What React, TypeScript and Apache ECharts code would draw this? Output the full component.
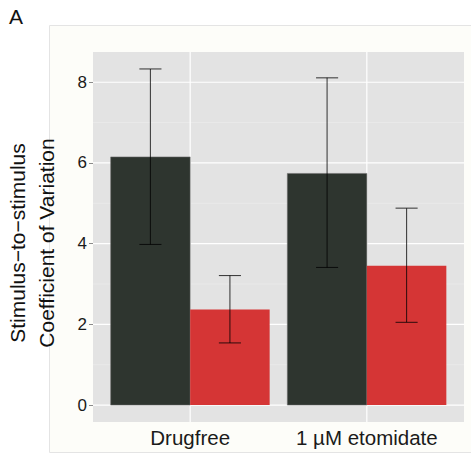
import { useEffect, useRef } from "react";
import * as echarts from "echarts";

const categories = ["Drugfree", "1 µM etomidate"];
const darkMean = [6.15, 5.74];
const darkLow = [3.98, 3.41];
const darkHigh = [8.33, 8.11];
const redMean = [2.37, 3.45];
const redLow = [1.54, 2.05];
const redHigh = [3.21, 4.88];
const yTicks = [0, 2, 4, 6, 8];
const yMinor = [1, 3, 5, 7];
const xTicks = [1, 2];

const FONT = '"Liberation Sans", Arial, Helvetica, sans-serif';
const X_MIN = 0.45;
const X_MAX = 2.55;
const Y_MIN = -0.42;
const Y_MAX = 8.75;
const DODGE = 0.225;
const BAR_W = 0.45;
const CAP_W = 0.125;

function groupSeries(name: string, mean: number[], low: number[], high: number[], color: string, offset: number, stroke: string | null) {
  const data = mean.map((m, i) => [i + 1 + offset, m, low[i], high[i]]);
  return [
    {
      type: "custom",
      name,
      z: 3,
      data,
      encode: { x: 0, y: 1 },
      renderItem: (_p: any, api: any) => {
        const x = api.value(0);
        const y = api.value(1);
        const a = api.coord([x - BAR_W / 2, y]);
        const b = api.coord([x + BAR_W / 2, 0]);
        return {
          type: "rect",
          shape: { x: a[0], y: a[1], width: b[0] - a[0], height: b[1] - a[1] },
          style: { fill: color, stroke: stroke || undefined, lineWidth: stroke ? 0.8 : 0 },
        };
      },
    },
    {
      type: "custom",
      name: name + " error",
      z: 4,
      data,
      encode: { x: 0, y: [2, 3] },
      renderItem: (_p: any, api: any) => {
        const x = api.value(0);
        const lo = api.value(2);
        const hi = api.value(3);
        const top = api.coord([x, hi]);
        const bot = api.coord([x, lo]);
        const tl = api.coord([x - CAP_W / 2, hi]);
        const tr = api.coord([x + CAP_W / 2, hi]);
        const bl = api.coord([x - CAP_W / 2, lo]);
        const br = api.coord([x + CAP_W / 2, lo]);
        const st = { stroke: "rgba(0,0,0,0.72)", lineWidth: 1.1 };
        return {
          type: "group",
          children: [
            { type: "line", shape: { x1: top[0], y1: top[1], x2: bot[0], y2: bot[1] }, style: st },
            { type: "line", shape: { x1: tl[0], y1: tl[1], x2: tr[0], y2: tr[1] }, style: st },
            { type: "line", shape: { x1: bl[0], y1: bl[1], x2: br[0], y2: br[1] }, style: st },
          ],
        };
      },
    },
  ];
}

function hLines(values: number[], color: string, width: number) {
  return {
    type: "custom",
    z: 1,
    silent: true,
    data: values.map((v) => [X_MIN, v]),
    encode: { x: 0, y: 1 },
    renderItem: (_p: any, api: any) => {
      const v = api.value(1);
      const a = api.coord([X_MIN, v]);
      const b = api.coord([X_MAX, v]);
      return { type: "line", shape: { x1: a[0], y1: a[1], x2: b[0], y2: b[1] }, style: { stroke: color, lineWidth: width } };
    },
  };
}

function vLines(values: number[], color: string, width: number) {
  return {
    type: "custom",
    z: 1,
    silent: true,
    data: values.map((v) => [v, 0]),
    encode: { x: 0, y: 1 },
    renderItem: (_p: any, api: any) => {
      const v = api.value(0);
      const a = api.coord([v, Y_MIN]);
      const b = api.coord([v, Y_MAX]);
      return { type: "line", shape: { x1: a[0], y1: a[1], x2: b[0], y2: b[1] }, style: { stroke: color, lineWidth: width } };
    },
  };
}

export default function App() {
  const ref = useRef<HTMLDivElement>(null);
  useEffect(() => {
    document.body.style.margin = "0";
    const chart = echarts.init(ref.current!, null, { renderer: "svg" });
    chart.setOption({
      animation: false,
      backgroundColor: "#ffffff",
      textStyle: { fontFamily: FONT },
      grid: { left: 93, right: 7, top: 52, bottom: 32, show: true, backgroundColor: "#e3e3e3", borderWidth: 0, z: 0 },
      graphic: [
        {
          type: "rect",
          z: -100,
          silent: true,
          shape: { x: 49.5, y: 25.5, width: 430, height: 427 },
          style: { fill: "#fdfdf9", stroke: "#e4e4e4", lineWidth: 1 },
        },
        {
          type: "text",
          left: 9,
          top: 6,
          style: { text: "A", fontSize: 21, fontFamily: FONT, fill: "#111111" },
        },
        {
          type: "text",
          x: 32,
          y: 243,
          rotation: Math.PI / 2,
          style: {
            text: "Stimulus\u2212to\u2212stimulus\nCoefficient of Variation",
            fontSize: 21,
            lineHeight: 29,
            fontFamily: FONT,
            fill: "#111111",
            align: "center",
            verticalAlign: "middle",
          },
        },
      ],
      xAxis: {
        type: "value",
        min: X_MIN,
        max: X_MAX,
        axisLine: { show: false },
        axisTick: { show: false },
        splitLine: { show: false },
        axisLabel: {
          customValues: xTicks,
          formatter: (v: number) => categories[Math.round(v) - 1] ?? "",
          fontSize: 20.5,
          fontFamily: FONT,
          color: "#1a1a1a",
          margin: 5,
        },
      },
      yAxis: {
        type: "value",
        min: Y_MIN,
        max: Y_MAX,
        axisLine: { show: false },
        axisTick: { show: true, customValues: yTicks, length: 4, lineStyle: { color: "#8a8a8a", width: 1 } },
        splitLine: { show: false },
        axisLabel: { customValues: yTicks, fontSize: 17, fontFamily: FONT, color: "#1a1a1a", margin: 6 },
      },
      series: [
        hLines(yMinor, "#eeeeee", 0.6),
        hLines(yTicks, "#ffffff", 1.2),
        vLines(xTicks, "#ffffff", 1.2),
        ...groupSeries("Group 1", darkMean, darkLow, darkHigh, "#2e352f", -DODGE, "rgba(110,110,110,0.7)"),
        ...groupSeries("Group 2", redMean, redLow, redHigh, "#d53535", DODGE, null),
      ],
    });
    return () => chart.dispose();
  }, []);
  return <div ref={ref} style={{ width: 471, height: 454, position: "absolute", left: 0, top: 0 }} />;
}
